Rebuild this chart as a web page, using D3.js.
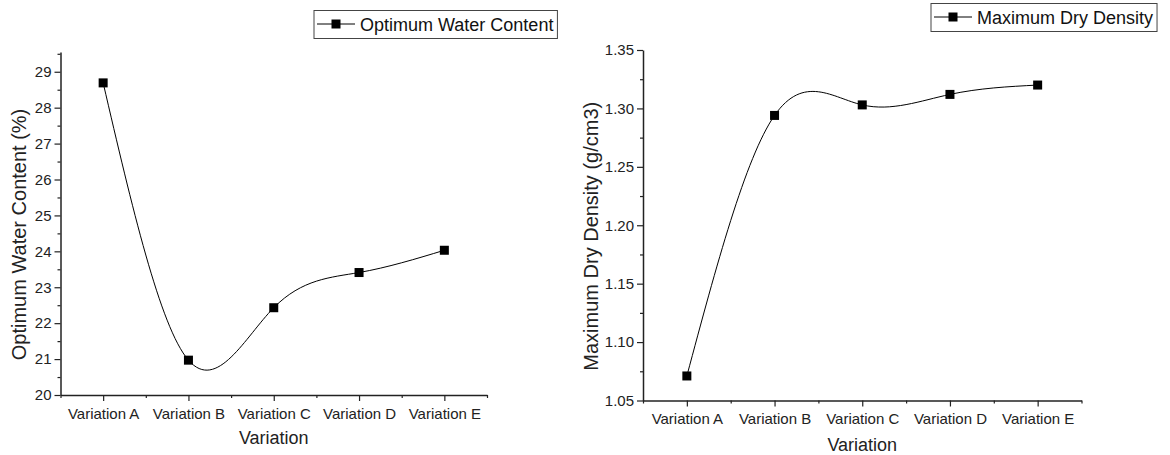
<!DOCTYPE html>
<html>
<head>
<meta charset="utf-8">
<script src="https://cdn.jsdelivr.net/npm/d3@7"></script>
<style>
  body { margin: 0; background: #fff; }
  svg { font-family: "Liberation Sans", Arial, sans-serif; }
</style>
</head>
<body>
<svg id="chart" width="1170" height="455"></svg>
<script>
const categories = ["Variation A", "Variation B", "Variation C", "Variation D", "Variation E"];
const waterContent = [28.69, 20.97, 22.43, 23.41, 24.03];
const dryDensity = [1.071, 1.294, 1.303, 1.312, 1.320];
const waterTicks = [20, 21, 22, 23, 24, 25, 26, 27, 28, 29];
const densityTicks = [1.05, 1.10, 1.15, 1.20, 1.25, 1.30, 1.35];

const svg = d3.select("#chart");

function drawPanel(opt) {
    const g = svg.append("g");

    const x = d3.scaleLinear().domain([0.5, categories.length + 0.5]).range([opt.left, opt.right]);
    const y = d3.scaleLinear().domain(opt.domain).range([opt.bottom, opt.top]);

    // x axis, major ticks on categories, minor between
    const xAxis = g.append("g").attr("transform", `translate(0, ${opt.bottom})`)
        .call(d3.axisBottom(x)
            .tickValues(d3.range(1, categories.length + 1))
            .tickFormat(i => categories[i - 1])
            .tickSize(6).tickSizeOuter(0).tickPadding(7));
    xAxis.selectAll(".tick text").style("font-size", "15px").attr("fill", "#222");
    g.append("g").attr("transform", `translate(0, ${opt.bottom})`)
        .call(d3.axisBottom(x)
            .tickValues(d3.range(0.5, categories.length + 1, 1))
            .tickFormat("").tickSize(3).tickSizeOuter(0))
        .select(".domain").remove();

    // y axis, major + minor
    const yAxis = g.append("g").attr("transform", `translate(${opt.left}, 0)`)
        .call(d3.axisLeft(y)
            .tickValues(opt.ticks)
            .tickFormat(opt.fmt)
            .tickSize(6).tickSizeOuter(0).tickPadding(3));
    yAxis.selectAll(".tick text").style("font-size", "15px").attr("fill", "#222");
    g.append("g").attr("transform", `translate(${opt.left}, 0)`)
        .call(d3.axisLeft(y)
            .tickValues(opt.minor)
            .tickFormat("").tickSize(3).tickSizeOuter(0))
        .select(".domain").remove();

    g.selectAll(".domain").attr("stroke", "#222").attr("stroke-width", 1.5);
    g.selectAll(".tick line").attr("stroke", "#222").attr("stroke-width", 1.2);

    // titles
    g.append("text")
        .attr("x", (opt.left + opt.right) / 2)
        .attr("y", opt.xTitleY)
        .attr("text-anchor", "middle")
        .style("font-size", "18px")
        .attr("fill", "#222")
        .text("Variation");

    g.append("text")
        .attr("transform", `translate(${opt.yTitleX}, ${(opt.top + opt.bottom) / 2 + 11}) rotate(-90)`)
        .attr("text-anchor", "middle")
        .style("font-size", "20px")
        .attr("fill", "#222")
        .text(opt.yTitle);

    // smooth line
    const line = d3.line()
        .x((d, i) => x(i + 1))
        .y(d => y(d))
        .curve(d3.curveNatural);
    g.append("path")
        .datum(opt.values)
        .attr("d", line)
        .attr("fill", "none")
        .attr("stroke", "#000")
        .attr("stroke-width", 1);

    g.selectAll("rect.pt")
        .data(opt.values)
        .enter()
        .append("rect")
        .attr("class", "pt")
        .attr("x", (d, i) => x(i + 1) - 4.5)
        .attr("y", d => y(d) - 4.5)
        .attr("width", 9)
        .attr("height", 9)
        .attr("fill", "#000");

    // legend
    const lg = g.append("g");
    const lgText = lg.append("text")
        .attr("x", opt.legX + 46)
        .attr("y", opt.legY + 6.5)
        .style("font-size", "18px")
        .attr("fill", "#111")
        .text(opt.legend);
    const tw = lgText.node().getComputedTextLength();
    lg.insert("rect", "text")
        .attr("x", opt.legX)
        .attr("y", opt.legY - 13.5)
        .attr("width", tw + 50)
        .attr("height", 28)
        .attr("fill", "#fff")
        .attr("stroke", "#444")
        .attr("stroke-width", 1);
    lg.append("line")
        .attr("x1", opt.legX + 3).attr("x2", opt.legX + 41)
        .attr("y1", opt.legY).attr("y2", opt.legY)
        .attr("stroke", "#000");
    lg.append("rect")
        .attr("x", opt.legX + 22 - 4.5).attr("y", opt.legY - 4.5)
        .attr("width", 9).attr("height", 9)
        .attr("fill", "#000");
}

drawPanel({
    left: 60.5, right: 487, top: 52, bottom: 395,
    domain: [20, 29.55],
    ticks: waterTicks,
    minor: d3.range(20.5, 29.6, 1),
    fmt: d3.format("d"),
    values: waterContent,
    yTitle: "Optimum Water Content (%)",
    yTitleX: 26,
    xTitleY: 444,
    legend: "Optimum Water Content",
    legX: 314, legY: 24
});

drawPanel({
    left: 643, right: 1081.5, top: 50, bottom: 400.5,
    domain: [1.05, 1.35],
    ticks: densityTicks,
    minor: d3.range(1.075, 1.35, 0.05),
    fmt: d3.format(".2f"),
    values: dryDensity,
    yTitle: "Maximum Dry Density (g/cm3)",
    yTitleX: 598,
    xTitleY: 451,
    legend: "Maximum Dry Density",
    legX: 931, legY: 17
});
</script>
</body>
</html>
